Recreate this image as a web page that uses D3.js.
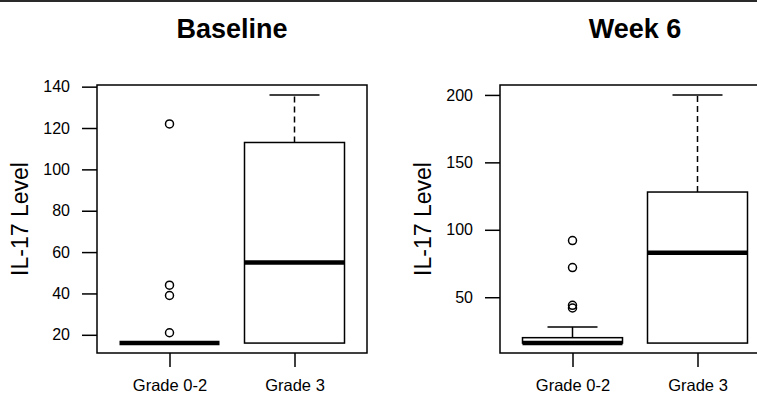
<!DOCTYPE html>
<html>
<head>
<meta charset="utf-8">
<script src="https://cdn.jsdelivr.net/npm/d3@7"></script>
<style>
  body { margin: 0; background: #fff; }
  svg { display: block; font-family: "Liberation Sans", Arial, sans-serif; }
</style>
</head>
<body>
<svg id="view"></svg>
<script>
// box stats per group: [lower whisker, q1, median, q3, upper whisker]
const categories = ['Grade 0-2', 'Grade 3'];
const baselineBox = [[16, 16, 16, 16, 16], [16, 16, 55, 113, 136]];
const baselineOutliers = [[122, 44, 39, 21], []];
const baselineTicks = [20, 40, 60, 80, 100, 120, 140];
const week6Box = [[16, 16, 16, 20, 28], [16, 16, 83, 128, 200]];
const week6Outliers = [[92, 72, 44, 42], []];
const week6Ticks = [50, 100, 150, 200];

const W = 757, H = 393;
const svg = d3.select('#view').attr('width', W).attr('height', H);

svg.append('rect')
  .attr('x', 0).attr('y', 0).attr('width', W).attr('height', 2)
  .attr('fill', '#2a2a2a');

const panels = [
  {title: 'Baseline', box: baselineBox, out: baselineOutliers, ticks: baselineTicks, left: 97},
  {title: 'Week 6', box: week6Box, out: week6Outliers, ticks: week6Ticks, left: 500}
];

const plotW = 270, plotTop = 85, plotBottom = 353;

for (const p of panels) {
  const g = svg.append('g');

  // R style: 4% extension on each side
  const vals = p.box.flat().concat(p.out.flat());
  const lo = d3.min(vals), hi = d3.max(vals);
  const pad = (hi - lo) * 0.04;

  const x = d3.scaleLinear()
    .domain([0.42, categories.length + 0.58])
    .range([p.left, p.left + plotW]);
  const y = d3.scaleLinear()
    .domain([lo - pad, hi + pad])
    .range([plotBottom, plotTop]);

  const half = x(1.4) - x(1);

  // y axis
  const yAxis = g.append('g')
    .attr('transform', `translate(${p.left},0)`)
    .call(d3.axisLeft(y).tickValues(p.ticks).tickSize(15).tickPadding(12));
  yAxis.select('.domain').remove();
  yAxis.selectAll('line').attr('stroke', '#000').attr('stroke-width', 1.5);
  yAxis.selectAll('text').attr('font-size', 16).attr('fill', '#000')
    .attr('font-family', '"Liberation Sans", Arial, sans-serif');

  // x axis
  const xAxis = g.append('g')
    .attr('transform', `translate(0,${plotBottom})`)
    .call(d3.axisBottom(x).tickValues(categories.map((c, i) => i + 1))
      .tickFormat(d => categories[d - 1]).tickSize(14).tickPadding(12));
  xAxis.select('.domain').remove();
  xAxis.selectAll('line').attr('stroke', '#000').attr('stroke-width', 1.5);
  xAxis.selectAll('text').attr('font-size', 16.5).attr('fill', '#000')
    .attr('font-family', '"Liberation Sans", Arial, sans-serif');

  // plot border
  g.append('rect')
    .attr('x', p.left).attr('y', plotTop)
    .attr('width', plotW).attr('height', plotBottom - plotTop)
    .attr('fill', 'none').attr('stroke', '#000').attr('stroke-width', 1.5);

  const grp = g.selectAll('.grp')
    .data(p.box)
    .enter().append('g')
      .attr('class', 'grp');

  // upper whisker (dashed) and cap
  grp.append('line')
    .attr('x1', (d, i) => x(i + 1)).attr('x2', (d, i) => x(i + 1))
    .attr('y1', d => y(d[3])).attr('y2', d => y(d[4]))
    .attr('stroke', '#000').attr('stroke-width', 1.5)
    .attr('stroke-dasharray', d => d[4] - d[3] > 20 ? '6,4' : null);
  grp.append('line')
    .attr('x1', (d, i) => x(i + 1) - half / 2).attr('x2', (d, i) => x(i + 1) + half / 2)
    .attr('y1', d => y(d[4])).attr('y2', d => y(d[4]))
    .attr('stroke', '#000').attr('stroke-width', 1.5);

  // box
  grp.append('rect')
    .attr('x', (d, i) => x(i + 1) - half)
    .attr('width', half * 2)
    .attr('y', d => y(d[3]))
    .attr('height', d => y(d[1]) - y(d[3]))
    .attr('fill', '#fff').attr('stroke', '#000').attr('stroke-width', 1.5);

  // median
  grp.append('line')
    .attr('x1', (d, i) => x(i + 1) - half).attr('x2', (d, i) => x(i + 1) + half)
    .attr('y1', d => y(d[2])).attr('y2', d => y(d[2]))
    .attr('stroke', '#000').attr('stroke-width', 4.5);

  // outliers
  p.out.forEach((arr, i) => {
    g.selectAll(null)
      .data(arr)
      .enter().append('circle')
        .attr('cx', x(i + 1))
        .attr('cy', d => y(d))
        .attr('r', 4)
        .attr('fill', 'none').attr('stroke', '#000').attr('stroke-width', 1.5);
  });

  // titles
  g.append('text')
    .attr('x', p.left + plotW / 2).attr('y', 38)
    .attr('text-anchor', 'middle')
    .attr('font-size', 27).attr('font-weight', 'bold')
    .text(p.title);

  g.append('text')
    .attr('transform', `translate(${p.left - 69},${(plotTop + plotBottom) / 2}) rotate(-90)`)
    .attr('text-anchor', 'middle')
    .attr('font-size', 23)
    .text('IL-17 Level');
}
</script>
</body>
</html>
